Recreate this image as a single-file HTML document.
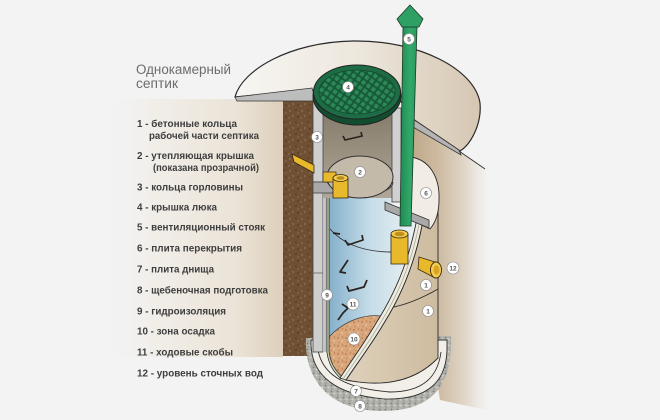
<!DOCTYPE html>
<html><head><meta charset="utf-8">
<style>
html,body{margin:0;padding:0;background:#f3f3f3;}
svg{display:block;}
.t{font-family:"Liberation Sans","DejaVu Sans",sans-serif;font-size:10px;font-weight:bold;fill:#3e3e3e;}
.ti{font-family:"Liberation Sans","DejaVu Sans",sans-serif;font-size:13.5px;fill:#6c6c6c;}
.lb{font-family:"Liberation Sans","DejaVu Sans",sans-serif;font-size:6.5px;font-weight:bold;fill:#555;text-anchor:middle;}
</style></head><body>
<svg width="660" height="420" viewBox="0 0 660 420" xmlns="http://www.w3.org/2000/svg">
<defs>
 <linearGradient id="panel" x1="0" y1="0" x2="1" y2="0">
  <stop offset="0" stop-color="#f3f3f3" stop-opacity="0"/>
  <stop offset="0.3" stop-color="#f1eee9"/>
  <stop offset="0.75" stop-color="#ebe3d7"/>
  <stop offset="1" stop-color="#ddcfba"/>
 </linearGradient>
 <linearGradient id="rsoil" x1="410" y1="0" x2="492" y2="0" gradientUnits="userSpaceOnUse">
  <stop offset="0" stop-color="#bfa788"/>
  <stop offset="0.35" stop-color="#cdbba2"/>
  <stop offset="0.62" stop-color="#ddd1c1"/>
  <stop offset="0.8" stop-color="#ebe6df"/>
  <stop offset="0.95" stop-color="#f3f3f3"/>
 </linearGradient>
 <linearGradient id="dome" x1="235" y1="0" x2="482" y2="0" gradientUnits="userSpaceOnUse">
  <stop offset="0" stop-color="#f7f6f2"/>
  <stop offset="0.5" stop-color="#ede7dd"/>
  <stop offset="1" stop-color="#d5c6b1"/>
 </linearGradient>
 <linearGradient id="water" x1="330" y1="0" x2="420" y2="0" gradientUnits="userSpaceOnUse">
  <stop offset="0" stop-color="#86b1cc"/>
  <stop offset="0.45" stop-color="#c6dde8"/>
  <stop offset="1" stop-color="#eef3f3"/>
 </linearGradient>
 <linearGradient id="ext" x1="340" y1="0" x2="440" y2="0" gradientUnits="userSpaceOnUse">
  <stop offset="0" stop-color="#dfd2bd"/>
  <stop offset="1" stop-color="#cdbb9f"/>
 </linearGradient>
 <linearGradient id="neck" x1="0" y1="110" x2="0" y2="200" gradientUnits="userSpaceOnUse">
  <stop offset="0" stop-color="#857b6b"/>
  <stop offset="1" stop-color="#b2a899"/>
 </linearGradient>
 <linearGradient id="pipe" x1="400" y1="0" x2="417" y2="0" gradientUnits="userSpaceOnUse">
  <stop offset="0" stop-color="#1f8a52"/>
  <stop offset="0.6" stop-color="#33a86a"/>
  <stop offset="1" stop-color="#2a9a5f"/>
 </linearGradient>
 <pattern id="soil" width="12" height="12" patternUnits="userSpaceOnUse">
  <rect width="12" height="12" fill="#6f5034"/>
  <circle cx="2" cy="3" r="1" fill="#8d6d4d"/>
  <circle cx="8" cy="2" r="0.8" fill="#51361f"/>
  <circle cx="5" cy="8" r="1.1" fill="#86674a"/>
  <circle cx="10" cy="9" r="0.9" fill="#573a22"/>
  <circle cx="1" cy="10" r="0.7" fill="#96785b"/>
  <circle cx="10" cy="5" r="0.6" fill="#9a7c5e"/>
 </pattern>
 <pattern id="sed" width="8" height="8" patternUnits="userSpaceOnUse">
  <rect width="8" height="8" fill="#d8a67a"/>
  <circle cx="2" cy="2" r="0.9" fill="#b87548"/>
  <circle cx="6" cy="5" r="0.8" fill="#f0d2b2"/>
  <circle cx="3" cy="6.5" r="0.7" fill="#c4865a"/>
  <circle cx="6.5" cy="1" r="0.6" fill="#a86a40"/>
 </pattern>
 <pattern id="grav" width="6" height="6" patternUnits="userSpaceOnUse">
  <rect width="6" height="6" fill="#b2b2ac"/>
  <circle cx="1.5" cy="1.5" r="0.9" fill="#7c7c77"/>
  <circle cx="4.5" cy="3.5" r="1" fill="#d4d4ce"/>
  <circle cx="2" cy="5" r="0.7" fill="#8c8c86"/>
 </pattern>
 <pattern id="grid" width="6" height="6" patternUnits="userSpaceOnUse" patternTransform="rotate(35)">
  <rect width="6" height="6" fill="#175a38"/>
  <rect x="1" y="1" width="4.2" height="4.2" rx="1.2" fill="#2c8858"/>
 </pattern>
</defs>

<rect width="660" height="420" fill="#f3f3f3"/>

<!-- left panel -->
<rect x="100" y="99" width="183" height="258" fill="url(#panel)"/>

<!-- right soil -->
<path d="M410,120 L486,168 L496,175 L496,412 L440,400 L410,210 Z" fill="url(#rsoil)"/>

<!-- soil -->
<rect x="283" y="101" width="31" height="255" fill="url(#soil)"/>

<!-- dome -->
<path d="M235,97 C242,70 290,42 353,41 C420,40 475,70 480,103 C482,125 470,145 460,151 L413,119 L400,100 L316,90 Z" fill="url(#dome)" stroke="#2a2a2a" stroke-width="1.2"/>
<!-- gray strips -->
<path d="M235,97 L312,88 L316,101 L237,101 Z" fill="#bdbdbd" stroke="#333" stroke-width="0.8"/>
<path d="M413,119 L459,150 L461,155 L413,127 Z" fill="#b4b4b4" stroke="#333" stroke-width="0.8"/>
<line x1="459" y1="151" x2="485" y2="169" stroke="#333" stroke-width="0.9"/>

<!-- gravel -->
<path d="M306,338 C304,385 335,411 382,411 C428,411 453,390 451,336 Z" fill="url(#grav)"/>
<!-- plate 7 -->
<path d="M311,340 L311,345 C312,375 335,395 385,399 C430,400 446,380 447,350 L447,340 Z" fill="#f2efe9" stroke="#2e2e2e" stroke-width="0.9"/>
<path d="M318,350 C322,372 340,388 390,392 C425,392 438,375 441,352" fill="none" stroke="#2e2e2e" stroke-width="0.9"/>

<!-- chamber left wall -->
<rect x="313" y="192" width="10" height="160" fill="#cecece" stroke="#444" stroke-width="0.8"/>
<line x1="313" y1="273" x2="323" y2="273" stroke="#666" stroke-width="0.8"/>
<rect x="323" y="192" width="5" height="160" fill="#c3c3c3"/>

<!-- water interior -->
<path d="M328,192 L392,192 L392,205 L418,212 C412,250 400,285 378,320 C365,342 352,360 340,378 L333,370 L328,356 Z" fill="url(#water)"/>
<!-- back wall joint -->
<path d="M330,229 Q350,252 392,252" fill="none" stroke="#333" stroke-width="0.9"/>
<!-- sediment -->
<path d="M329,337 C345,320 365,314 381,316 C370,335 356,358 341,377 C335,372 330,364 329,356 Z" fill="url(#sed)" stroke="#444" stroke-width="0.8"/>
<!-- waterproofing line -->
<path d="M328,196 L328,352 Q330,368 342,378" fill="none" stroke="#2e2e2e" stroke-width="3"/>
<path d="M328,196 L328,352 Q330,368 342,378" fill="none" stroke="#c4d2ae" stroke-width="1.4"/>

<!-- ladder rungs -->
<g fill="none" stroke="#2a221c" stroke-width="1.7" stroke-linejoin="round">
 <path d="M333,233 L340,234"/>
 <path d="M345,240 L348,245 L363,240 L362,235"/>
 <path d="M348,260 L340,272 L346,273"/>
 <path d="M347,286 L349,291 L364,287 L367,280"/>
 <path d="M342,304 L348,308 L343,313 L338,320"/>
</g>

<!-- exterior of rings -->
<path d="M424,214 L438,206 L438,358 Q405,392 346,380 C358,362 371,345 384,323 C406,288 418,252 424,214 Z" fill="url(#ext)" stroke="#2b2b2b" stroke-width="0.9"/>
<path d="M389,308 Q412,304 438,289" fill="none" stroke="#2b2b2b" stroke-width="0.9"/>
<!-- cut band -->
<path d="M418,212 C412,250 400,285 378,320 C365,342 352,360 340,378 L346,380 C358,362 371,345 384,323 C406,288 418,252 424,214 Z" fill="#f0ebe2" stroke="#2b2b2b" stroke-width="0.9"/>
<path d="M421,213 C415,251 403,287 381,322 C368,344 355,361 343,379" fill="none" stroke="#9fae8a" stroke-width="0.8"/>

<!-- plate 6 -->
<path d="M411,157 C430,160 440,178 439,200 C439,212 436,222 430,229 L411,220 Z" fill="#f1ece4" stroke="#2b2b2b" stroke-width="0.9"/>
<path d="M385,202 L429,220 L429,228 L385,210 Z" fill="#a9a9a9" stroke="#333" stroke-width="0.8"/>

<!-- neck -->
<rect x="323" y="108" width="70" height="90" fill="url(#neck)"/>
<rect x="313" y="98" width="10" height="84" fill="#cfcfcf" stroke="#444" stroke-width="0.8"/>
<rect x="392" y="108" width="9" height="94" fill="#d0d0d0" stroke="#444" stroke-width="0.8"/>
<rect x="313" y="182" width="20" height="11" fill="#a8a8a8" stroke="#444" stroke-width="0.8"/>
<path d="M343,136 L345,140 L362,136 L361,132" fill="none" stroke="#2a221c" stroke-width="1.6"/>
<!-- insulation lid 2 -->
<path d="M327,180 C327,196 392,200 393,182" fill="#a99f90" stroke="#333" stroke-width="0.9"/>
<ellipse cx="360" cy="177" rx="33" ry="21" fill="#c4baa9" stroke="#333" stroke-width="1"/>

<!-- inlet pipe -->
<path d="M292,154 L314,165 L314,173 L294,162 Z" fill="#e8b92a" stroke="#3a2a10" stroke-width="0.8"/>
<rect x="323" y="172" width="13" height="10" fill="#e8b92a" stroke="#3a2a10" stroke-width="0.7"/>
<rect x="333" y="178" width="15" height="20" fill="#e8b92a" stroke="#3a2a10" stroke-width="0.8"/>
<ellipse cx="340.5" cy="178" rx="7.5" ry="3.5" fill="#f3cd52" stroke="#3a2a10" stroke-width="0.8"/>
<ellipse cx="340.5" cy="178" rx="4" ry="1.8" fill="#b98a1c"/>

<!-- outlet tee -->
<rect x="391" y="234" width="17" height="30" fill="#e8b92a" stroke="#3a2a10" stroke-width="0.8"/>
<ellipse cx="399.5" cy="234" rx="8.5" ry="4" fill="#f3cd52" stroke="#3a2a10" stroke-width="0.8"/>
<ellipse cx="399.5" cy="234" rx="5" ry="2.3" fill="#c08f1c"/>

<!-- outlet pipe 12 -->
<path d="M419,257 L435,262 L435,278 L418,269 Z" fill="#e8b92a" stroke="#3a2a10" stroke-width="0.8"/>
<ellipse cx="436" cy="270" rx="5.5" ry="8" fill="#f3cd52" stroke="#3a2a10" stroke-width="0.9"/>
<ellipse cx="436.5" cy="270" rx="3" ry="4.8" fill="#d9a422"/>

<!-- lid -->
<ellipse cx="357" cy="96" rx="44" ry="29" fill="#134d30" stroke="#222" stroke-width="1"/>
<ellipse cx="357" cy="92" rx="43.5" ry="27" fill="#1e6c45" stroke="#222" stroke-width="1"/>
<ellipse cx="357" cy="92" rx="38" ry="22" fill="url(#grid)" stroke="#134d30" stroke-width="0.8"/>

<!-- vent pipe -->
<path d="M403,27 L417,27 L411,226 L400,226 Z" fill="url(#pipe)" stroke="#1d3a28" stroke-width="0.8"/>
<path d="M410,5 L423,19 L419,27 L402,27 L397,19 Z" fill="#2ea064" stroke="#1d3a28" stroke-width="0.8"/>

<!-- labels -->
<g stroke="#8a8a8a" stroke-width="0.6" fill="#ffffff">
 <circle cx="409" cy="39" r="5.5"/>
 <circle cx="348" cy="87" r="5.5"/>
 <circle cx="317" cy="137" r="5.5"/>
 <circle cx="360" cy="172" r="5.5"/>
 <circle cx="426" cy="193" r="5.5"/>
 <circle cx="453" cy="268" r="6"/>
 <circle cx="426" cy="285" r="5.5"/>
 <circle cx="428" cy="311" r="5.5"/>
 <circle cx="327" cy="295" r="5.5"/>
 <circle cx="353" cy="304" r="6"/>
 <circle cx="354" cy="339" r="6"/>
 <circle cx="356" cy="391" r="5.5"/>
 <circle cx="360" cy="406" r="5.5"/>
</g>
<g class="lb">
 <text x="409" y="41.5">5</text>
 <text x="348" y="89.5">4</text>
 <text x="317" y="139.5">3</text>
 <text x="360" y="174.5">2</text>
 <text x="426" y="195.5">6</text>
 <text x="453" y="270.5">12</text>
 <text x="426" y="287.5">1</text>
 <text x="428" y="313.5">1</text>
 <text x="327" y="297.5">9</text>
 <text x="353" y="306.5">11</text>
 <text x="354" y="341.5">10</text>
 <text x="356" y="393.5">7</text>
 <text x="360" y="408.5">8</text>
</g>

<!-- title -->
<text class="ti" x="136" y="74" textLength="95" lengthAdjust="spacingAndGlyphs">Однокамерный</text>
<text class="ti" x="136" y="88" textLength="42" lengthAdjust="spacingAndGlyphs">септик</text>

<!-- legend -->
<g class="t">
 <text x="137" y="127" textLength="100" lengthAdjust="spacingAndGlyphs">1 - бетонные кольца</text>
 <text x="149" y="139" textLength="110" lengthAdjust="spacingAndGlyphs">рабочей части септика</text>
 <text x="137" y="159" textLength="117" lengthAdjust="spacingAndGlyphs">2 - утепляющая крышка</text>
 <text x="153" y="171" textLength="106" lengthAdjust="spacingAndGlyphs">(показана прозрачной)</text>
 <text x="137" y="190.5" textLength="106" lengthAdjust="spacingAndGlyphs">3 - кольца горловины</text>
 <text x="137" y="210.5" textLength="80" lengthAdjust="spacingAndGlyphs">4 - крышка люка</text>
 <text x="137" y="230.5" textLength="128" lengthAdjust="spacingAndGlyphs">5 - вентиляционный стояк</text>
 <text x="137" y="251.5" textLength="105" lengthAdjust="spacingAndGlyphs">6 - плита перекрытия</text>
 <text x="137" y="272.5" textLength="77" lengthAdjust="spacingAndGlyphs">7 - плита днища</text>
 <text x="137" y="293.5" textLength="131" lengthAdjust="spacingAndGlyphs">8 - щебеночная подготовка</text>
 <text x="137" y="314.5" textLength="89" lengthAdjust="spacingAndGlyphs">9 - гидроизоляция</text>
 <text x="137" y="334.5" textLength="78" lengthAdjust="spacingAndGlyphs">10 - зона осадка</text>
 <text x="137" y="355.5" textLength="96" lengthAdjust="spacingAndGlyphs">11 - ходовые скобы</text>
 <text x="137" y="376.5" textLength="126" lengthAdjust="spacingAndGlyphs">12 - уровень сточных вод</text>
</g>
</svg>
</body></html>
